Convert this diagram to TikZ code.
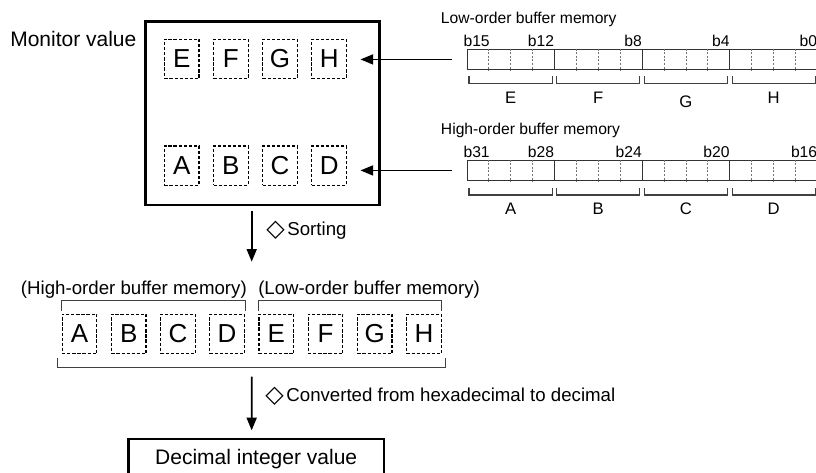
\documentclass[tikz,border=0pt]{standalone}
\usepackage{fontspec}
\setmainfont{Liberation Sans}
\newfontfamily\symbfont{DejaVu Sans}
\newcommand{\diamondmark}{\raisebox{-0.8pt}{\symbfont\fontsize{18}{18}\selectfont ◇}\kern2pt}
\usetikzlibrary{arrows.meta,positioning}

\begin{document}
\begin{tikzpicture}[x=0.75pt, y=-0.75pt,
  big/.style={font=\fontsize{15.75}{18}\selectfont, inner sep=0},
  txt/.style={font=\fontsize{14}{16}\selectfont, inner sep=0},
  small/.style={font=\fontsize{11.75}{13}\selectfont, inner sep=0},
  nib/.style={font=\fontsize{12.5}{14}\selectfont, inner sep=0},
  frame/.style={draw, line width=2pt, inner sep=0},
  letterbox/.style={draw, dash pattern=on 2.4pt off 1.4pt, line width=0.9pt, minimum width=26pt, minimum height=29.4pt, inner sep=0, font=\fontsize{19.5}{22}\selectfont},
  reg/.style={draw=black!80, line width=0.8pt, minimum width=263pt, minimum height=15.6pt, inner sep=0, anchor=north west},
  bitsep/.style={draw=black!55, line width=0.6pt, dash pattern=on 1.5pt off 1.2pt},
  nibsep/.style={draw=black!80, line width=0.8pt},
  brk/.style={draw=black!75, line width=0.8pt},
  arr/.style={-{Triangle[length=9.5pt,width=7.5pt]}, line width=1.3pt}
]
  \useasboundingbox (0,0) rectangle (816,472);
  \clip (0,0) rectangle (816,472);

  \node[big, anchor=base west] (monlbl) at (10,46.7) {Monitor value};
  \node[frame, minimum width=175.5pt, minimum height=137.8pt] (monbox) at (262.7,113.2) {};
  \foreach \l [count=\i from 0] in {E,F,G,H}
    \node[letterbox] (mon\l) at (181.7+49.17*\i,58.8) {\l};
  \foreach \l [count=\i from 0] in {A,B,C,D}
    \node[letterbox] (mon\l) at (181.7+49.17*\i,165.5) {\l};

  \node[small, anchor=base west] (lowlbl) at (440.7,23) {Low-order buffer memory};
  \node[small, anchor=base west] (highlbl) at (440.7,134) {High-order buffer memory};
  \node[reg] (lowreg) at (466.7,48.5) {};
  \node[reg] (highreg) at (466.7,159.5) {};
  \foreach \r in {lowreg,highreg} {
    \foreach \k in {1,2,3,5,6,7,9,10,11,13,14,15}
      \draw[bitsep] ([xshift=\k*16.44pt]\r.north west) -- ([xshift=\k*16.44pt]\r.south west);
    \foreach \k in {4,8,12}
      \draw[nibsep] ([xshift=\k*16.44pt]\r.north west) -- ([xshift=\k*16.44pt]\r.south west);
  }

  \node[small, anchor=base west] (lb15) at (463.3,46) {b15};
  \foreach \b/\k in {12/4,8/8,4/12,0/16}
    \node[small, anchor=base east] (lb\b) at (466.7+21.92*\k,46) {b\b};
  \node[small, anchor=base west] (hb31) at (463.3,157) {b31};
  \foreach \b/\k in {28/4,24/8,20/12,16/16}
    \node[small, anchor=base east] (hb\b) at (466.7+21.92*\k,157) {b\b};

  \foreach \l/\dy [count=\j from 0] in {E/0,F/0,G/3.5,H/0} {
    \draw[brk] (469+87.68*\j,76) |- (552.1+87.68*\j,83.5) -- (552.1+87.68*\j,76);
    \node[nib] (lo\l) at (510.6+87.68*\j,97.8+\dy) {\l};
  }
  \foreach \l [count=\j from 0] in {A,B,C,D} {
    \draw[brk] (469+87.68*\j,187.5) |- (552.1+87.68*\j,195) -- (552.1+87.68*\j,187.5);
    \node[nib] (hi\l) at (510.6+87.68*\j,208.3) {\l};
  }

  \draw[arr] ([xshift=-11.25pt]lowreg.west) -- ([xshift=10pt]lowreg.west -| monH.east);
  \draw[arr] ([xshift=-11.25pt]highreg.west) -- ([xshift=10pt]highreg.west -| monD.east);

  \coordinate (sortend) at (251.7,261.7);
  \draw[arr] ([xshift=-8.25pt,yshift=-3.75pt]monbox.south) -- (sortend);
  \node[txt, anchor=base west] (sortlbl) at (266,235.5) {\diamondmark Sorting};

  \node[txt, anchor=base west] (hilbl) at (20.7,294.5) {(High-order buffer memory)};
  \node[txt, anchor=base west] (lolbl) at (258,294.5) {(Low-order buffer memory)};
  \foreach \l [count=\i from 0] in {A,B,C,D,E,F,G,H}
    \node[letterbox] (res\l) at (79.5+49.2*\i,334) {\l};
  \draw[brk] ([yshift=2pt]resA.north west) |- ([yshift=10pt]resD.north east) -- ([yshift=2pt]resD.north east);
  \draw[brk] ([yshift=2pt]resE.north west) |- ([yshift=10pt]resH.north east) -- ([yshift=2pt]resH.north east);
  \draw[brk] ([xshift=-3pt,yshift=-3.2pt]resA.south west) |- ([xshift=2.4pt,yshift=-10.2pt]resH.south east) -- ([xshift=2.4pt,yshift=-3.2pt]resH.south east);

  \node[frame, big, minimum width=191.8pt, minimum height=30.75pt] (decbox) at (256.2,459.5) {Decimal integer value};
  \coordinate (convstart) at (251.7,376.7);
  \draw[arr] (convstart) -- ([xshift=-3.4pt,yshift=5.5pt]decbox.north);
  \node[txt, anchor=base west] (convlbl) at (265,401.7) {\diamondmark Converted from hexadecimal to decimal};
\end{tikzpicture}
\end{document}
